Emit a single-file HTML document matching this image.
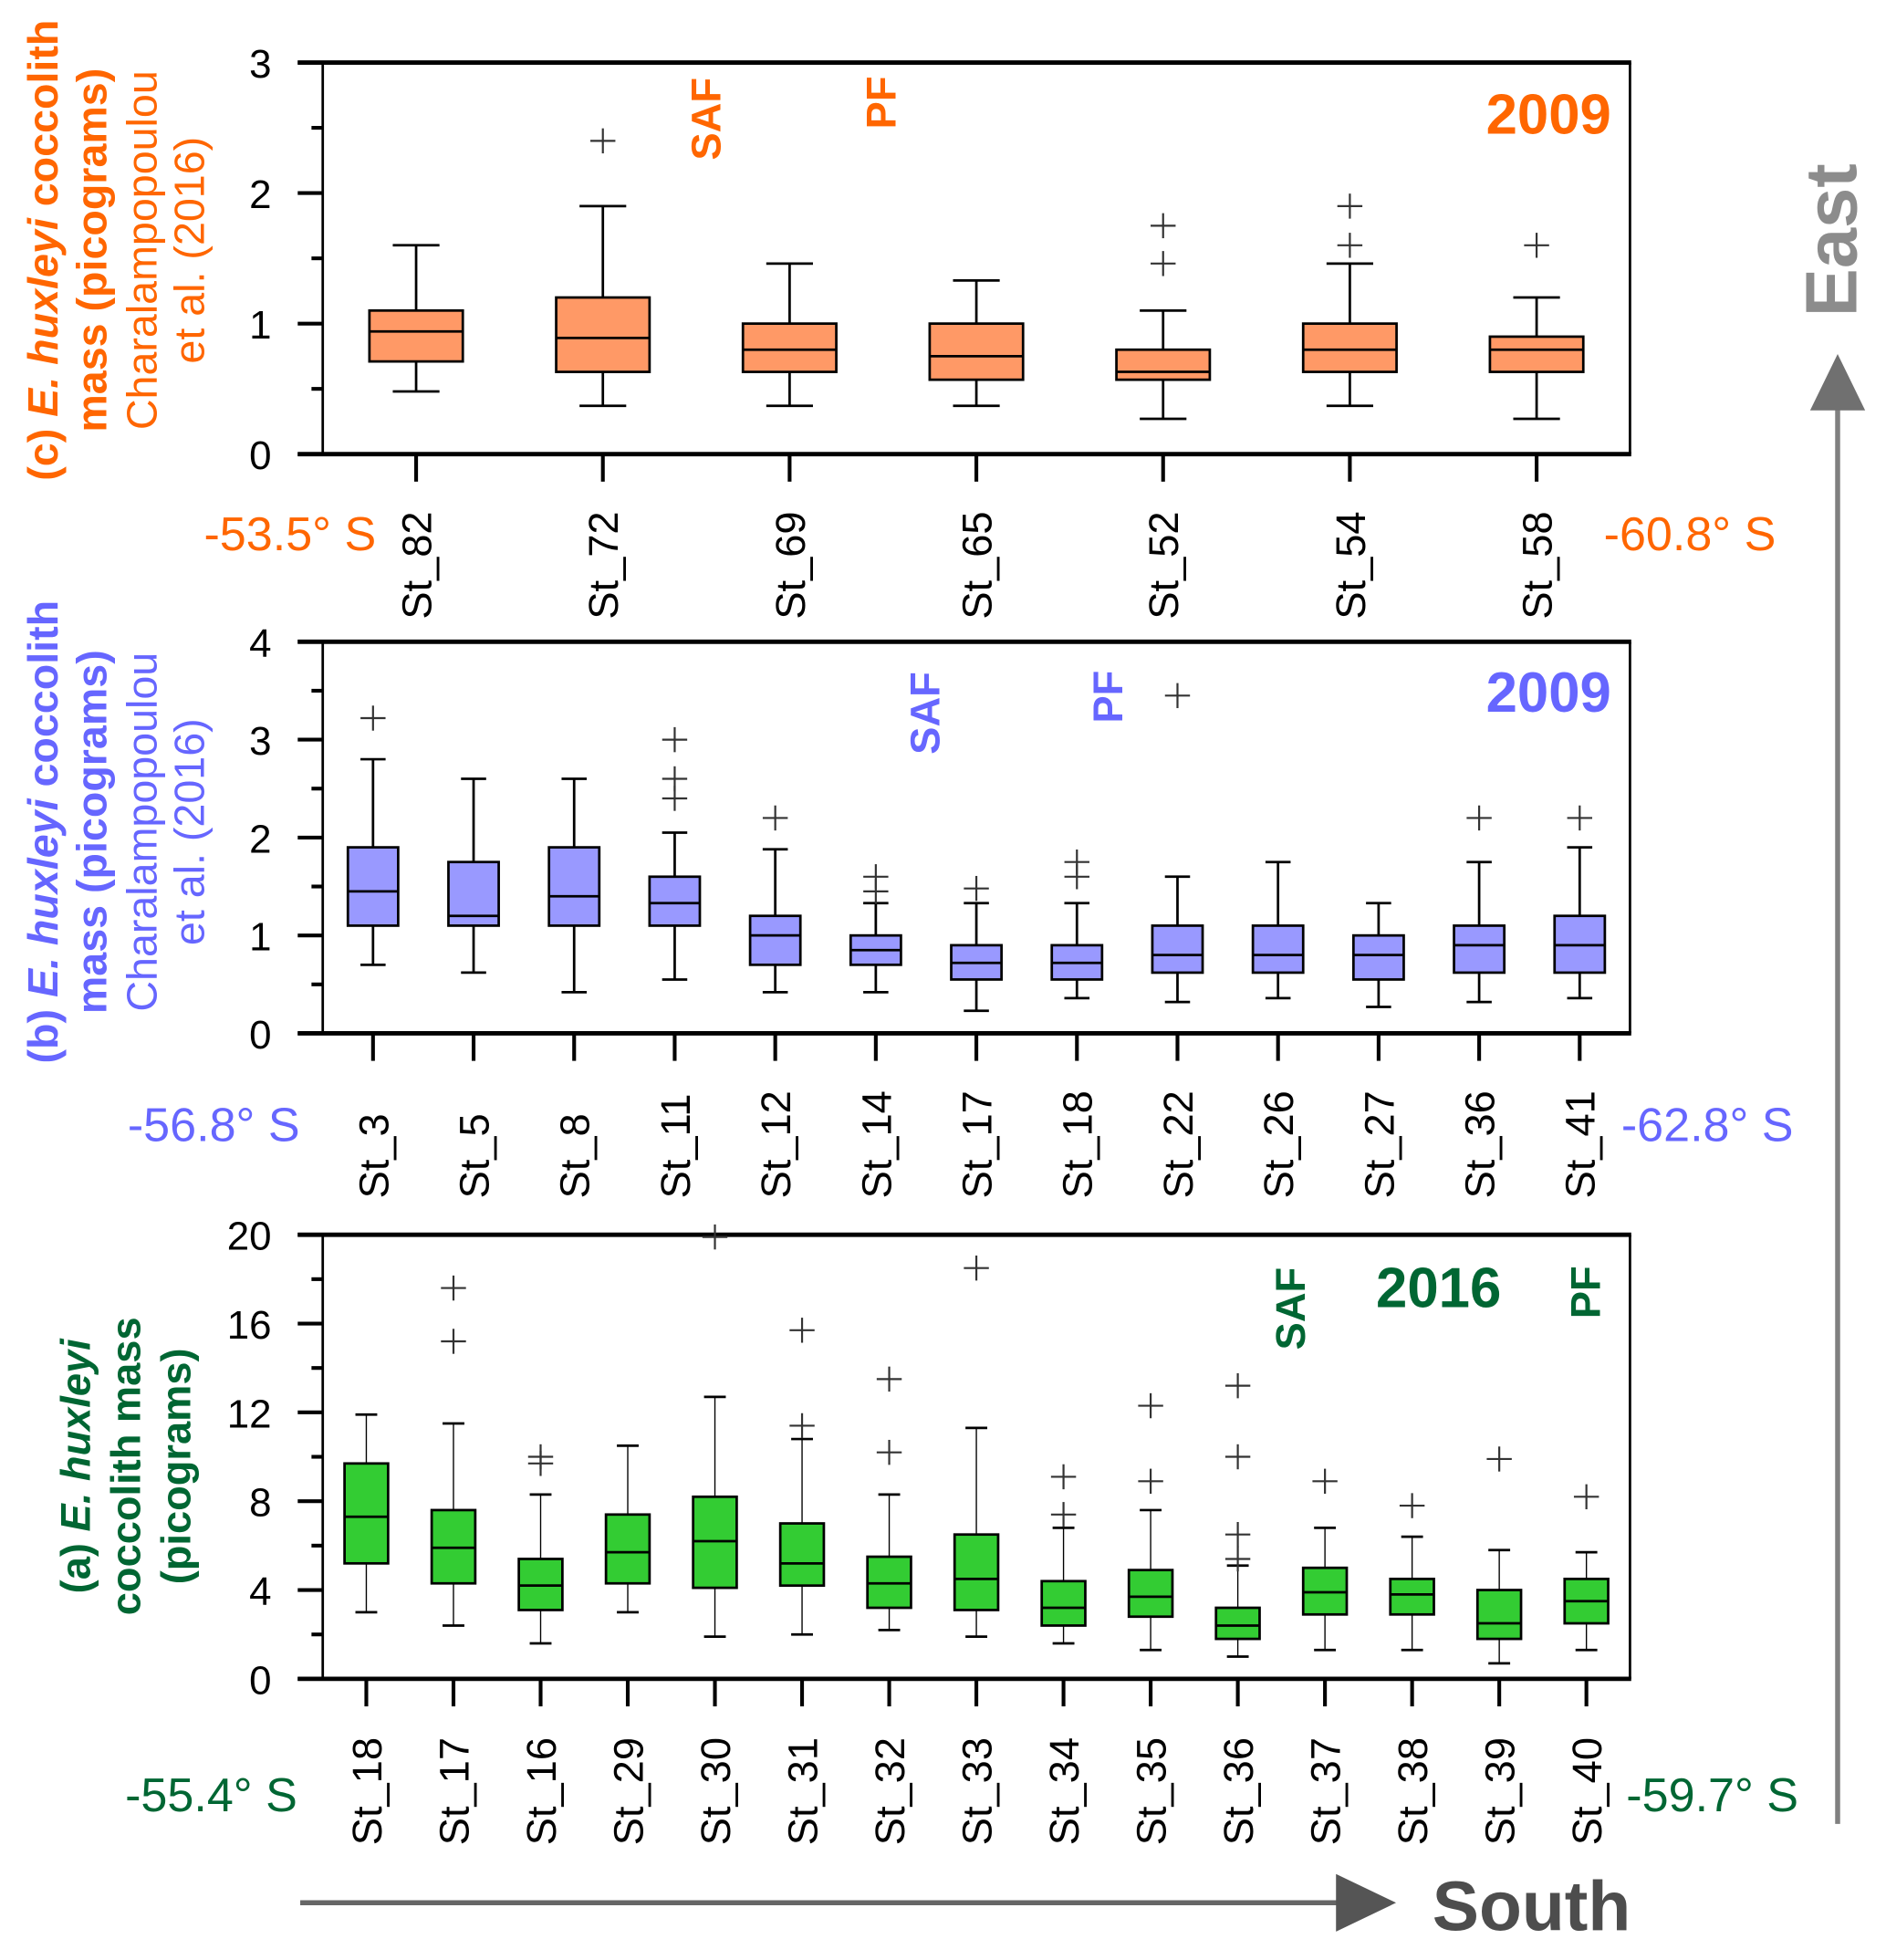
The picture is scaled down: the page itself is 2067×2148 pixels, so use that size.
<!DOCTYPE html>
<html><head><meta charset="utf-8"><style>
html,body{margin:0;padding:0;background:#fff;}
svg{display:block;font-family:"Liberation Sans",Arial,sans-serif;}
</style></head><body>
<svg id="chart" width="2067" height="2148" viewBox="0 0 2067 2148" xmlns="http://www.w3.org/2000/svg">
<g id="root" transform="scale(1.371)"></g>
</svg>
<script>
// Panel c (2009, orange)
const catsC = ["St_82","St_72","St_69","St_65","St_52","St_54","St_58"];
const loC  = [0.48,0.37,0.37,0.37,0.27,0.37,0.27];
const q1C  = [0.71,0.63,0.63,0.57,0.57,0.63,0.63];
const medC = [0.94,0.89,0.80,0.75,0.63,0.80,0.80];
const q3C  = [1.10,1.20,1.00,1.00,0.80,1.00,0.90];
const hiC  = [1.60,1.90,1.46,1.33,1.10,1.46,1.20];
const outC = [[],[2.4],[],[],[1.75,1.46],[1.9,1.6],[1.6]];
const ticksC = [0,1,2,3];

// Panel b (2009, blue)
const catsB = ["St_3","St_5","St_8","St_11","St_12","St_14","St_17","St_18","St_22","St_26","St_27","St_36","St_41"];
const loB  = [0.70,0.62,0.42,0.55,0.42,0.42,0.23,0.36,0.32,0.36,0.27,0.32,0.36];
const q1B  = [1.10,1.10,1.10,1.10,0.70,0.70,0.55,0.55,0.62,0.62,0.55,0.62,0.62];
const medB = [1.45,1.20,1.40,1.33,1.00,0.85,0.72,0.72,0.80,0.80,0.80,0.90,0.90];
const q3B  = [1.90,1.75,1.90,1.60,1.20,1.00,0.90,0.90,1.10,1.10,1.00,1.10,1.20];
const hiB  = [2.80,2.60,2.60,2.05,1.88,1.33,1.33,1.33,1.60,1.75,1.33,1.75,1.90];
const outB = [[3.22],[],[],[3.0,2.6,2.4],[2.2],[1.6,1.45],[1.48],[1.75,1.6],[3.45],[],[],[2.2],[2.2]];
const ticksB = [0,1,2,3,4];

// Panel a (2016, green)
const catsA = ["St_18","St_17","St_16","St_29","St_30","St_31","St_32","St_33","St_34","St_35","St_36","St_37","St_38","St_39","St_40"];
const loA  = [3.0,2.4,1.6,3.0,1.9,2.0,2.2,1.9,1.6,1.3,1.0,1.3,1.3,0.7,1.3];
const q1A  = [5.2,4.3,3.1,4.3,4.1,4.2,3.2,3.1,2.4,2.8,1.8,2.9,2.9,1.8,2.5];
const medA = [7.3,5.9,4.2,5.7,6.2,5.2,4.3,4.5,3.2,3.7,2.4,3.9,3.8,2.5,3.5];
const q3A  = [9.7,7.6,5.4,7.4,8.2,7.0,5.5,6.5,4.4,4.9,3.2,5.0,4.5,4.0,4.5];
const hiA  = [11.9,11.5,8.3,10.5,12.7,10.8,8.3,11.3,6.8,7.6,5.1,6.8,6.4,5.8,5.7];
const outA = [[],[17.6,15.2],[10.0,9.7],[],[19.9],[15.7,11.4],[13.5,10.2],[18.5],[9.1,7.4],[12.3,8.9],[13.2,10.0,6.5,5.4],[8.9],[7.8],[9.9],[8.2]];
const ticksA = [0,4,8,12,16,20];

const NS="http://www.w3.org/2000/svg";
const root=document.getElementById('root');
function mk(tag,attrs,parent,text){const e=document.createElementNS(NS,tag);for(const k in attrs)e.setAttribute(k,attrs[k]);if(text!==undefined)e.textContent=text;(parent||root).appendChild(e);return e;}

function panel(p){
  const g=mk('g',{});
  
  
  const X0=258,X1=1303,Y0=p.top,Y1=p.bottom;
  const n=p.cats.length;
  const step=(X1-X0)/n;
  const xs=i=>X0+step*(i+0.5);
  const ys=v=>Y1-(v/p.ymax)*(Y1-Y0);
  const bw=step*p.bwf;
  mk('line',{x1:1303,y1:Y0,x2:1303,y2:Y1,stroke:'#000','stroke-width':2},g);
  mk('line',{x1:X0,y1:Y0,x2:X0,y2:Y1,stroke:'#000','stroke-width':2},g);
  const top=mk('line',{x1:238,y1:Y0,x2:1304,y2:Y0,stroke:'#000','stroke-width':3.5},g);
  
  const bot=mk('line',{x1:238,y1:Y1,x2:1304,y2:Y1,stroke:'#000','stroke-width':3.5},g);
  
  const mstep=p.ticks[1]-p.ticks[0];
  for(const t of p.ticks){
    mk('line',{x1:238,y1:ys(t),x2:X0,y2:ys(t),stroke:'#000','stroke-width':3},g);
    const tl=mk('text',{x:217,y:ys(t)+12,'font-size':32,'text-anchor':'end'},g,String(t));
    
  }
  for(let i=0;i<p.ticks.length-1;i++){
    const v=p.ticks[i]+mstep/2;
    mk('line',{x1:249,y1:ys(v),x2:X0,y2:ys(v),stroke:'#000','stroke-width':3},g);
  }
  for(let i=0;i<n;i++){
    const x=xs(i);
    const bg=mk('g',{},g);
    
    
    mk('line',{x1:x,y1:ys(p.lo[i]),x2:x,y2:ys(p.hi[i]),stroke:'#000','stroke-width':p.ww},bg);
    mk('line',{x1:x-bw/4,y1:ys(p.lo[i]),x2:x+bw/4,y2:ys(p.lo[i]),stroke:'#000','stroke-width':2},bg);
    mk('line',{x1:x-bw/4,y1:ys(p.hi[i]),x2:x+bw/4,y2:ys(p.hi[i]),stroke:'#000','stroke-width':2},bg);
    mk('rect',{x:x-bw/2,y:ys(p.q3[i]),width:bw,height:ys(p.q1[i])-ys(p.q3[i]),fill:p.fill,stroke:'#000','stroke-width':2},bg);
    mk('line',{x1:x-bw/2,y1:ys(p.med[i]),x2:x+bw/2,y2:ys(p.med[i]),stroke:'#000','stroke-width':2},bg);
    for(const o of p.out[i]){
      const oy=ys(o);
      const og=mk('g',{},bg);
      
      
      mk('line',{x1:x-10,y1:oy,x2:x+10,y2:oy,stroke:'#333','stroke-width':1.6},og);
      mk('line',{x1:x,y1:oy-10,x2:x,y2:oy+10,stroke:'#333','stroke-width':1.6},og);
    }
    mk('line',{x1:x,y1:Y1,x2:x,y2:Y1+22,stroke:'#000','stroke-width':3},g);
    const lx=x+12, ly=p.labBase;
    const tl=mk('text',{x:lx,y:ly,'font-size':33,transform:`rotate(-90 ${lx} ${ly})`},g,p.cats[i]);
    
  }
  return g;
}

function rotText(x,y,s,size,color,weight,name){
  const t=mk('text',{x:x,y:y,'font-size':size,fill:color,'font-weight':weight||'normal','text-anchor':'middle',transform:`rotate(-90 ${x} ${y})`},root,s);
  
  
  return t;
}
function ylabel(lines,cy,color,name,size){
  const g=mk('g',{});
  
  
  for(const L of lines){
    const t=mk('text',{x:L.x,y:cy,'font-size':size,fill:color,'font-weight':L.b?'bold':'normal','text-anchor':'middle',transform:`rotate(-90 ${L.x} ${cy})`},g);
    for(const s of L.parts){const ts=mk('tspan',{},t,s[0]);if(s[1])ts.setAttribute('font-style','italic');}
  }
}
function txt(x,y,s,size,color,weight,anchor,name){
  const t=mk('text',{x:x,y:y,'font-size':size,fill:color,'font-weight':weight,'text-anchor':anchor},root,s);
  
  
}

// Panel C
panel({name:'panel-c',cats:catsC,lo:loC,q1:q1C,med:medC,q3:q3C,hi:hiC,out:outC,ticks:ticksC,ymax:3,top:50,bottom:363,fill:'#FF9966',bwf:0.5,ww:2,labBase:495});
ylabel([{x:46,b:1,parts:[["(c) "],["E. huxleyi",1],[" coccolith"]]},{x:85,b:1,parts:[["mass (picograms)"]]},{x:125,parts:[["Charalampopoulou"]]},{x:163,parts:[["et al. (2016)"]]}],200,'#FF6600','y-axis-title-c',34);
txt(163,440,'-53.5° S',38,'#FF6600','normal','start','lat-start-c');
txt(1282,440,'-60.8° S',38,'#FF6600','normal','start','lat-end-c');
txt(1288,107,'2009',45,'#FF6600','bold','end','year-label-c');
rotText(576,95,'SAF',33,'#FF6600','bold','saf-label-c');
rotText(716,82,'PF',33,'#FF6600','bold','pf-label-c');

// Panel B
panel({name:'panel-b',cats:catsB,lo:loB,q1:q1B,med:medB,q3:q3B,hi:hiB,out:outB,ticks:ticksB,ymax:4,top:513,bottom:826,fill:'#9999FF',bwf:0.5,ww:2,labBase:958});
ylabel([{x:46,b:1,parts:[["(b) "],["E. huxleyi",1],[" coccolith"]]},{x:85,b:1,parts:[["mass (picograms)"]]},{x:125,parts:[["Charalampopoulou"]]},{x:163,parts:[["et al. (2016)"]]}],665,'#6666FF','y-axis-title-b',34);
txt(102,912,'-56.8° S',38,'#6666FF','normal','start','lat-start-b');
txt(1296,912,'-62.8° S',38,'#6666FF','normal','start','lat-end-b');
txt(1288,569,'2009',45,'#6666FF','bold','end','year-label-b');
rotText(751,570,'SAF',33,'#6666FF','bold','saf-label-b');
rotText(897,557,'PF',33,'#6666FF','bold','pf-label-b');

// Panel A
panel({name:'panel-a',cats:catsA,lo:loA,q1:q1A,med:medA,q3:q3A,hi:hiA,out:outA,ticks:ticksA,ymax:20,top:987,bottom:1342,fill:'#33CC33',bwf:0.5,ww:1,labBase:1475});
ylabel([{x:72,b:1,parts:[["(a) "],["E. huxleyi",1]]},{x:112,b:1,parts:[["coccolith mass"]]},{x:152,b:1,parts:[["(picograms)"]]}],1172,'#006633','y-axis-title-a',33);
txt(100,1448,'-55.4° S',38,'#006633','normal','start','lat-start-a');
txt(1300,1448,'-59.7° S',38,'#006633','normal','start','lat-end-a');
txt(1150,1045,'2016',45,'#006633','bold','middle','year-label-a');
rotText(1043,1046,'SAF',33,'#006633','bold','saf-label-a');
rotText(1279,1033,'PF',33,'#006633','bold','pf-label-a');

// Arrows
const ea=mk('g',{});
mk('line',{x1:1469,y1:1458,x2:1469,y2:325,stroke:'#808080','stroke-width':4},ea);
mk('polygon',{points:'1447,328 1491,328 1469,283',fill:'#707070'},ea);
rotText(1484,192,'East',58,'#8c8c8c','bold','east-label');
const sa=mk('g',{});
mk('line',{x1:240,y1:1521,x2:1075,y2:1521,stroke:'#666','stroke-width':4},sa);
mk('polygon',{points:'1068,1498 1068,1544 1116,1521',fill:'#555'},sa);
txt(1145,1543,'South',56,'#4d4d4d','bold','start','south-label');
</script>
</body></html>
